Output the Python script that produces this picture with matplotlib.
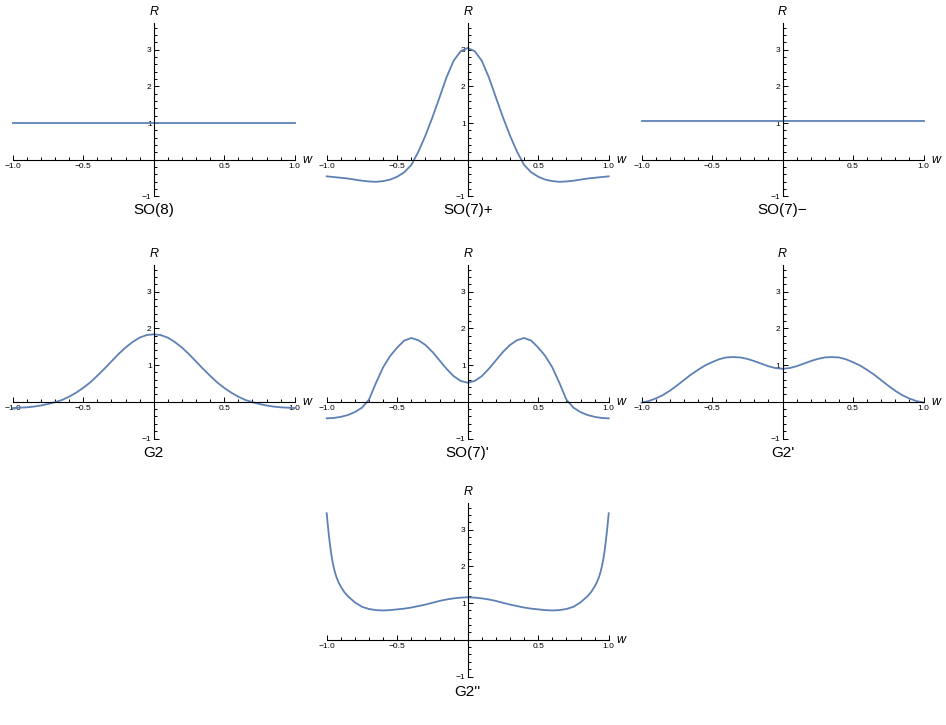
import matplotlib.pyplot as plt
import numpy as np
from matplotlib.ticker import FixedLocator

plt.rcParams['font.family'] = ['Liberation Sans', 'DejaVu Sans']

# w grid shared by most panels
w = np.round(np.arange(-1, 1.0001, 0.05), 2)

# values
so8 = [1.0] * 41
so7_plus = [-0.45, -0.47, -0.49, -0.51, -0.54, -0.57, -0.59, -0.60, -0.58, -0.54,
            -0.46, -0.34, -0.14, 0.22, 0.66, 1.16, 1.70, 2.25, 2.70, 2.96,
            3.05,
            2.96, 2.70, 2.25, 1.70, 1.16, 0.66, 0.22, -0.14, -0.34, -0.46,
            -0.54, -0.58, -0.60, -0.59, -0.57, -0.54, -0.51, -0.49, -0.47, -0.45]
so7_minus = [1.06] * 41
g2 = [-0.17, -0.16, -0.15, -0.13, -0.10, -0.06, -0.01, 0.05, 0.14, 0.25,
      0.38, 0.53, 0.71, 0.90, 1.10, 1.30, 1.48, 1.63, 1.75, 1.82,
      1.84,
      1.82, 1.75, 1.63, 1.48, 1.30, 1.10, 0.90, 0.71, 0.53, 0.38,
      0.25, 0.14, 0.05, -0.01, -0.06, -0.10, -0.13, -0.15, -0.16, -0.17]
so7_prime = [-0.45, -0.44, -0.41, -0.36, -0.28, -0.16, 0.06, 0.52, 0.94, 1.25,
             1.48, 1.67, 1.74, 1.68, 1.55, 1.36, 1.13, 0.90, 0.70, 0.57,
             0.52,
             0.57, 0.70, 0.90, 1.13, 1.36, 1.55, 1.68, 1.74, 1.67, 1.48,
             1.25, 0.94, 0.52, 0.06, -0.16, -0.28, -0.36, -0.41, -0.44, -0.45]
g2_prime = [-0.02, 0.02, 0.09, 0.18, 0.30, 0.44, 0.59, 0.74, 0.87, 0.99,
            1.08, 1.16, 1.21, 1.22, 1.21, 1.17, 1.11, 1.04, 0.97, 0.92,
            0.90,
            0.92, 0.97, 1.04, 1.11, 1.17, 1.21, 1.22, 1.21, 1.16, 1.08,
            0.99, 0.87, 0.74, 0.59, 0.44, 0.30, 0.18, 0.09, 0.02, -0.02]

# G2'' needs a finer grid near the ends
w_g2pp = [-1.00, -0.995, -0.99, -0.985, -0.98, -0.97, -0.96, -0.95, -0.94, -0.93,
          -0.915, -0.90, -0.875, -0.85, -0.80, -0.75, -0.70, -0.65, -0.60, -0.55,
          -0.50, -0.45, -0.40, -0.35, -0.30, -0.25, -0.20, -0.15, -0.10, -0.05,
          0.00,
          0.05, 0.10, 0.15, 0.20, 0.25, 0.30, 0.35, 0.40, 0.45, 0.50,
          0.55, 0.60, 0.65, 0.70, 0.75, 0.80, 0.85, 0.875, 0.90, 0.915,
          0.93, 0.94, 0.95, 0.96, 0.97, 0.98, 0.985, 0.99, 0.995, 1.00]
g2_pp = [3.45, 3.25, 3.05, 2.87, 2.70, 2.40, 2.16, 1.97, 1.82, 1.70,
         1.56, 1.45, 1.30, 1.19, 1.02, 0.90, 0.84, 0.81, 0.80, 0.81,
         0.83, 0.85, 0.88, 0.92, 0.96, 1.01, 1.06, 1.10, 1.13, 1.15,
         1.16,
         1.15, 1.13, 1.10, 1.06, 1.01, 0.96, 0.92, 0.88, 0.85, 0.83,
         0.81, 0.80, 0.81, 0.84, 0.90, 1.02, 1.19, 1.30, 1.45, 1.56,
         1.70, 1.82, 1.97, 2.16, 2.40, 2.70, 2.87, 3.05, 3.25, 3.45]

names = ["SO(8)", "SO(7)+", "SO(7)\u2212", "G2", "SO(7)'", "G2'", "G2''"]
xs = [w, w, w, w, w, w, w_g2pp]
ys = [so8, so7_plus, so7_minus, g2, so7_prime, g2_prime, g2_pp]

x_major = [-1.0, -0.5, 0.5, 1.0]
x_labels = ["\u22121.0", "\u22120.5", "0.5", "1.0"]
y_major = [-1, 1, 2, 3]
y_labels = ["\u22121", "1", "2", "3"]
x_minor = [v / 10 for v in range(-9, 10) if v not in (-5, 0, 5)]
y_minor = [v / 5 for v in range(-4, 19) if v % 5 != 0]

W, H = 946, 725
col_left = [12.7, 326.7, 641.5]
row_top = [23, 265, 503]
pw, ph = 282, 173.5
cells = [(0, 0), (0, 1), (0, 2), (1, 0), (1, 1), (1, 2), (2, 1)]
cap_y = [210, 453, 692]
color = "#5E81B5"

fig = plt.figure(figsize=(W / 100, H / 100), dpi=100)

for name, xv, yv, (r, c) in zip(names, xs, ys, cells):
    ax = fig.add_axes([col_left[c] / W, 1 - (row_top[r] + ph) / H, pw / W, ph / H])
    ax.plot(xv, yv, color=color, lw=1.3, clip_on=False, solid_joinstyle="round")
    ax.set_xlim(-1, 1)
    ax.set_ylim(-1, 3.73)
    ax.patch.set_alpha(0)
    for s in ["top", "right"]:
        ax.spines[s].set_visible(False)
    ax.spines["left"].set_position(("data", 0))
    ax.spines["bottom"].set_position(("data", 0))
    ax.spines["left"].set_linewidth(0.8)
    ax.spines["bottom"].set_linewidth(0.8)
    ax.xaxis.set_major_locator(FixedLocator(x_major))
    ax.xaxis.set_minor_locator(FixedLocator(x_minor))
    ax.yaxis.set_major_locator(FixedLocator(y_major))
    ax.yaxis.set_minor_locator(FixedLocator(y_minor))
    ax.set_xticklabels(x_labels)
    ax.set_yticklabels(y_labels)
    ax.tick_params(which="both", direction="in", width=0.7, labelsize=6, colors="black")
    ax.tick_params(which="major", length=3.5)
    ax.tick_params(which="minor", length=2)
    ax.tick_params(axis="x", pad=2.5)
    ax.tick_params(axis="y", pad=1.5)
    ax.annotate("R", xy=(0, 1), xycoords=("data", "axes fraction"), xytext=(0, 8),
                textcoords="offset points", ha="center", va="center",
                style="italic", fontsize=9)
    ax.annotate("w", xy=(1, 0), xycoords="data", xytext=(9, 0),
                textcoords="offset points", ha="center", va="center",
                style="italic", fontsize=9)
    cx = (col_left[c] + pw / 2) / W
    fig.text(cx, 1 - cap_y[r] / H, name, ha="center", va="center", fontsize=11)

plt.savefig("out.png", dpi=100)
